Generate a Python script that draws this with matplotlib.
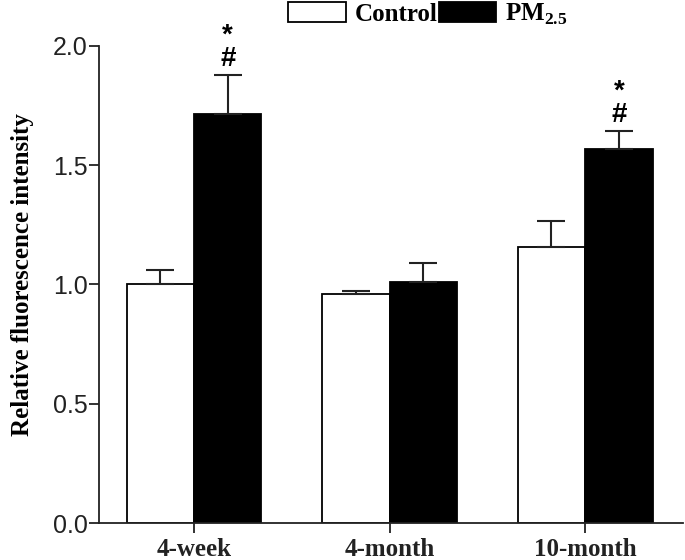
import numpy as np
import matplotlib
matplotlib.use('Agg')
from matplotlib import pyplot as plt

groups = ['4-week', '4-month', '10-month']
control = [1.00, 0.959, 1.156]
control_err = [0.062, 0.015, 0.109]
pm25 = [1.715, 1.010, 1.567]
pm25_err = [0.163, 0.081, 0.077]
pm_marks = ['*\n#', '', '*\n#']
yticks = [0.0, 0.5, 1.0, 1.5, 2.0]


def main():
    serif = ['Liberation Serif', 'DejaVu Serif']
    sans = ['Liberation Sans', 'DejaVu Sans']
    plt.rcParams['mathtext.fontset'] = 'custom'
    plt.rcParams['mathtext.rm'] = 'Liberation Serif'
    plt.rcParams['mathtext.bf'] = 'Liberation Serif:bold'

    fig = plt.figure(figsize=(6.85, 5.6), dpi=100)
    ax = fig.add_axes([0.1445, 0.066, 0.997 - 0.1445, 0.918 - 0.066])

    x = np.arange(len(groups))
    w = 0.345
    zeros = np.zeros(len(groups))
    b1 = ax.bar(x - w / 2, control, w, color='white', edgecolor='black', linewidth=1.3,
                label='Control', zorder=2)
    b2 = ax.bar(x + w / 2, pm25, w, color='black', edgecolor='black', linewidth=1.3,
                label=r'PM$_{\mathbf{2.5}}$', zorder=2)
    ax.errorbar(x - w / 2, control, yerr=[zeros, control_err], fmt='none', ecolor='#222222',
                elinewidth=1.5, capsize=10, capthick=1.5, zorder=3)
    ax.errorbar(x + w / 2, pm25, yerr=[zeros, pm25_err], fmt='none', ecolor='#222222',
                elinewidth=1.5, capsize=10, capthick=1.5, zorder=3)

    # significance marks above PM2.5 bars
    for i, m in enumerate(pm_marks):
        if not m:
            continue
        top = pm25[i] + pm25_err[i]
        ax.annotate(m, (x[i] + w / 2, top), xytext=(0, 2), textcoords='offset points',
                    ha='center', va='bottom', multialignment='center', linespacing=0.88,
                    fontsize=20, fontweight='bold', family=sans, annotation_clip=False)

    ax.set_xlim(-0.486, 2.50)
    ax.set_ylim(0, 2.0)
    ax.set_xticks(x)
    ax.set_xticklabels(groups, family=serif, fontweight='bold', fontsize=18)
    ax.set_yticks(yticks)
    ax.set_yticklabels(['%.1f' % v for v in yticks], family=sans, fontsize=18)
    ax.tick_params(axis='both', direction='out', length=7, width=1.3, colors='#222222')
    ax.tick_params(axis='y', pad=1)
    ax.tick_params(axis='x', pad=4)
    for s in ['top', 'right']:
        ax.spines[s].set_visible(False)
    for s in ['left', 'bottom']:
        ax.spines[s].set_linewidth(1.3)
        ax.spines[s].set_color('#222222')

    ax.set_ylabel('Relative fluorescence intensity', family=serif, fontweight='bold',
                  fontsize=18)
    ax.yaxis.set_label_coords(-0.112, 0.52)

    fig.legend(handles=[b1, b2], loc='upper left', bbox_to_anchor=(288 / 685, 1 - 2 / 560),
               ncol=2, frameon=False, borderpad=0, borderaxespad=0, handlelength=2.3,
               handleheight=0.85, handletextpad=0.36, columnspacing=0.05,
               prop={'family': serif, 'weight': 'bold', 'size': 18})

    fig.savefig('out.png', dpi=100)


if __name__ == '__main__':
    main()
